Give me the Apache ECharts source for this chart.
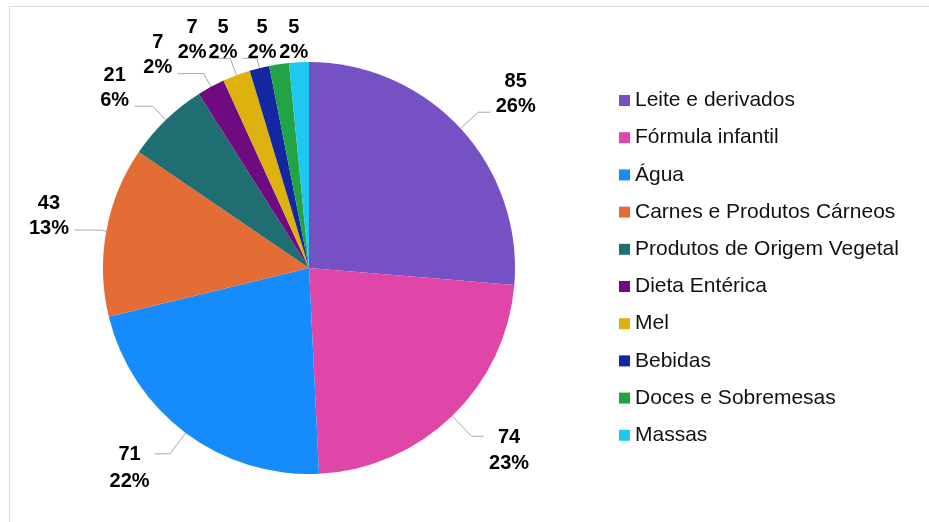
<!DOCTYPE html>
<html>
<head>
<meta charset="utf-8">
<script src="https://cdn.jsdelivr.net/npm/echarts@6/dist/echarts.min.js"></script>
<style>
html,body{margin:0;padding:0;background:#fff;}
#c{width:929px;height:522px;}
</style>
</head>
<body>
<div id="c"></div>
<script>
// ---- data ----
const categories = [
  'Leite e derivados', 'Fórmula infantil', 'Água', 'Carnes e Produtos Cárneos',
  'Produtos de Origem Vegetal', 'Dieta Entérica', 'Mel', 'Bebidas',
  'Doces e Sobremesas', 'Massas'
];
const values = [85, 74, 71, 43, 21, 7, 7, 5, 5, 5];

// ---- styles ----
const colors = ['#7551C4', '#E046A8', '#168BFC', '#E46C35', '#1F6F72',
                '#6F0A80', '#DDB20D', '#1227A0', '#22A446', '#1EC8F0'];
const lineLen  = [24, 28, 26, 6, 19, 15, 18, 10, 6, 4];
const lineLen2 = [12, 12, 15, 26, 18, 26, 18, 14, 11, 0];
const hideLine = [8, 9];
const centeredLabels = [8, 9];
const tightLabels = [3];

const FONT = '"Liberation Sans", Arial, Helvetica, sans-serif';

// which labels sit in the lower half (mid-angle between 90 and 270 deg clockwise from top)
const total = values.reduce((a, b) => a + b, 0);
const isBottom = [];
let acc = 0;
values.forEach(v => {
  const mid = (acc + v / 2) / total * 360;
  isBottom.push(Math.cos(mid * Math.PI / 180) < 0);
  acc += v;
});

const base = { fontFamily: FONT, fontSize: 20, fontWeight: 'bold', color: '#000', align: 'center' };
function st(width, lh) { return Object.assign({}, base, { width: width, lineHeight: lh }); }
const rich = {
  vw: st(41, 38), pw: st(41, 12),
  vn: st(30, 38), pn: st(30, 12),
  vtw: st(41, 46), ptw: st(41, 4),
  vtn: st(30, 46), ptn: st(30, 4),
  vbw: st(41, 2), pbw: st(41, 51),
  vbn: st(30, 2), pbn: st(30, 51)
};

const seriesData = categories.map((name, i) => ({
  name: name,
  value: values[i],
  itemStyle: { color: colors[i] },
  labelLine: {
    show: hideLine.indexOf(i) < 0,
    length: lineLen[i],
    length2: lineLen2[i]
  }
}));

const chart = echarts.init(document.getElementById('c'), null, { renderer: 'canvas' });
chart.setOption({
  animation: false,
  backgroundColor: '#ffffff',
  graphic: [{
    type: 'rect',
    shape: { x: 9.5, y: 6.5, width: 960, height: 560 },
    style: { fill: 'none', stroke: '#d9d9d9', lineWidth: 1 },
    silent: true
  }],
  legend: {
    orient: 'vertical',
    left: 614,
    top: 85,
    icon: 'rect',
    itemWidth: 11,
    itemHeight: 11,
    itemGap: 16.2,
    textStyle: { fontFamily: FONT, fontSize: 21, color: '#111', lineHeight: 20 },
    data: categories
  },
  series: [{
    type: 'pie',
    center: [309, 268],
    radius: 206,
    startAngle: 90,
    clockwise: true,
    avoidLabelOverlap: false,
    percentPrecision: 0,
    label: {
      show: true,
      position: 'outside',
      distanceToLabelLine: 5,
      formatter: function (p) {
        const pct = p.percent + '%';
        const w = pct.length > 2 ? 'w' : 'n';
        let k = '';
        if (isBottom[p.dataIndex]) k = 'b';
        else if (tightLabels.indexOf(p.dataIndex) >= 0) k = 't';
        return '{v' + k + w + '|' + p.value + '}\n{p' + k + w + '|' + pct + '}';
      },
      rich: rich
    },
    labelLine: {
      show: true,
      smooth: false,
      lineStyle: { color: '#a6a6a6', width: 1 }
    },
    labelLayout: function (p) {
      const o = { verticalAlign: isBottom[p.dataIndex] ? 'top' : 'bottom' };
      if (centeredLabels.indexOf(p.dataIndex) >= 0) o.align = 'center';
      return o;
    },
    emphasis: { disabled: true },
    data: seriesData
  }]
});
</script>
</body>
</html>
